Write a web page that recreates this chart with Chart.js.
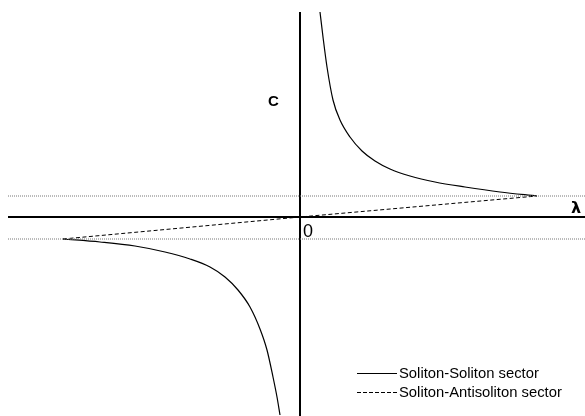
<!DOCTYPE html>
<html>
<head>
<meta charset="utf-8">
<script src="https://cdn.jsdelivr.net/npm/chart.js@4.4.1/dist/chart.umd.min.js"></script>
<style>
  body { margin: 0; background: #fff; }
  #wrap { width: 585px; height: 416px; }
</style>
</head>
<body>
<div id="wrap"><canvas id="solitonChart" width="585" height="416"></canvas></div>
<script>
// soliton-soliton sector, upper branch (lambda, C)
var ssUpperLambda = [0.20, 0.23, 0.27, 0.33, 0.40, 0.50, 0.62, 0.75, 0.90, 1.10, 1.35, 1.65, 2.00, 2.37];
var ssUpperC      = [2.05, 1.80, 1.50, 1.17, 0.97, 0.80, 0.66, 0.56, 0.48, 0.41, 0.35, 0.30, 0.25, 0.21];
// soliton-soliton sector, lower branch
var ssLowerLambda = [-2.37, -2.00, -1.65, -1.35, -1.10, -0.90, -0.75, -0.62, -0.50, -0.40, -0.33, -0.27, -0.23, -0.20];
var ssLowerC      = [-0.22, -0.25, -0.29, -0.35, -0.42, -0.50, -0.60, -0.73, -0.90, -1.12, -1.33, -1.60, -1.80, -1.98];
// soliton-antisoliton sector (straight through origin)
var saLambda = [-2.37, 0, 2.37];
var saC      = [-0.22, 0, 0.21];
// dotted reference levels
var levelsC = [0.21, -0.22];
var xMin = -3.0, xMax = 2.85, yMin = -1.99, yMax = 2.17;

function pts(xs, ys) {
    return xs.map(function(x, i) { return { x: x, y: ys[i] }; });
}

var labelsPlugin = {
    id: 'labels',
    afterDraw: function(chart) {
        var ctx = chart.ctx;
        ctx.save();
        ctx.fillStyle = '#000';
        ctx.textBaseline = 'middle';
        ctx.font = 'bold 15px "Liberation Sans", Arial, sans-serif';
        ctx.fillText('C', 268, 102);
        ctx.font = 'bold 16px "DejaVu Sans", sans-serif';
        ctx.fillText('\u03bb', 571, 209);
        ctx.font = '18px "Liberation Sans", Arial, sans-serif';
        ctx.fillText('0', 303, 232);

        // legend
        ctx.strokeStyle = '#000';
        ctx.lineWidth = 1;
        ctx.beginPath();
        ctx.moveTo(357, 373.5); ctx.lineTo(397, 373.5);
        ctx.stroke();
        ctx.setLineDash([4, 2]);
        ctx.beginPath();
        ctx.moveTo(357, 392.5); ctx.lineTo(397, 392.5);
        ctx.stroke();
        ctx.setLineDash([]);
        ctx.font = '14.8px "Liberation Sans", Arial, sans-serif';
        ctx.fillText('Soliton-Soliton sector', 399, 374);
        ctx.fillText('Soliton-Antisoliton sector', 399, 393);
        ctx.restore();
    }
};

var datasets = [];
levelsC.forEach(function(c) {
    datasets.push({
        data: [{ x: -2.92, y: c }, { x: xMax, y: c }],
        borderColor: '#777',
        borderWidth: 1,
        borderDash: [1, 1],
        pointRadius: 0
    });
});
// axes
datasets.push({
    data: [{ x: -2.92, y: 0 }, { x: xMax, y: 0 }],
    borderColor: '#000', borderWidth: 2, pointRadius: 0
});
datasets.push({
    data: [{ x: 0, y: 2.05 }, { x: 0, y: yMin }],
    borderColor: '#000', borderWidth: 2, pointRadius: 0
});
datasets.push({
    label: 'Soliton-Soliton sector',
    data: pts(ssUpperLambda, ssUpperC),
    borderColor: '#000', borderWidth: 1.2, pointRadius: 0,
    cubicInterpolationMode: 'monotone'
});
datasets.push({
    label: 'Soliton-Soliton sector',
    data: pts(ssLowerLambda, ssLowerC),
    borderColor: '#000', borderWidth: 1.2, pointRadius: 0,
    cubicInterpolationMode: 'monotone'
});
datasets.push({
    label: 'Soliton-Antisoliton sector',
    data: pts(saLambda, saC),
    borderColor: '#000', borderWidth: 1, borderDash: [4, 2.5], pointRadius: 0
});

var ctx = document.getElementById('solitonChart').getContext('2d');
var solitonChart = new Chart(ctx, {
    type: 'scatter',
    data: { datasets: datasets.map(function(d) { d.showLine = true; d.fill = false; return d; }) },
    options: {
        responsive: false,
        animation: false,
        layout: { padding: 0 },
        plugins: { legend: { display: false }, tooltip: { enabled: false } },
        scales: {
            x: { type: 'linear', min: xMin, max: xMax, display: false },
            y: { type: 'linear', min: yMin, max: yMax, display: false }
        }
    },
    plugins: [labelsPlugin]
});
</script>
</body>
</html>
